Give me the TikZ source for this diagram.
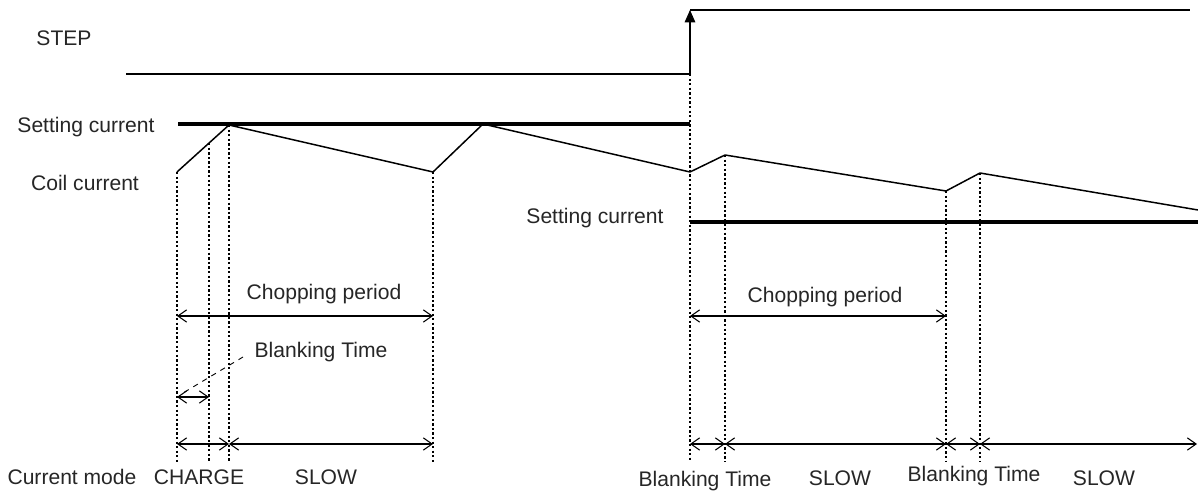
\documentclass[tikz,border=0pt]{standalone}
\usepackage{fontspec}
\setmainfont{Liberation Sans}
\usepackage{tikz}
\usetikzlibrary{arrows.meta,calc}

\begin{document}
\begin{tikzpicture}[x=0.02cm,y=-0.02cm,line width=0.6pt,
  lbl/.style={font=\fontsize{12}{14}\selectfont,text=black!85,inner sep=0pt},
  guide/.style={dash pattern=on 1.3pt off 1.3pt,line width=0.6pt},
  span/.style={<->,>={Straight Barb[length=5pt,width=7pt]}},
  setting/.style={line width=1.8pt},
  coil/.style={line width=0.85pt,line join=round}]
\useasboundingbox (0,0) rectangle (1198,492);
% labels
\node[lbl] (step) at (64,38) {STEP};
\node[lbl] (set1) at (86,127) {Setting current};
\node[lbl] (coil) at (85,183) {Coil current};
\node[lbl] (set2) at (595,218) {Setting current};
\node[lbl] (mode) at (72,477) {Current mode};
% step signal
\coordinate (s0) at (126,74);
\coordinate (s1) at (690,74);
\coordinate (s2) at (690,10);
\coordinate (s3) at (1190,10);
\draw (s0) -- (s1);
\draw[-{Triangle[length=7pt,width=6pt]}] (s1) -- (s2);
\draw (s2) -- (s3);
% setting current
\draw[setting] (178,124) -- (690,124);
\draw[setting] (690,222) -- (1198,222);
% coil current
\coordinate (c0) at (177,172);
\coordinate (c1) at (229,125);
\coordinate (c2) at (433,172);
\coordinate (c3) at (483,124);
\coordinate (c4) at (690,172);
\coordinate (c5) at (725,155);
\coordinate (c6) at (946,191);
\coordinate (c7) at (980,173);
\coordinate (c8) at (1198,210);
\coordinate (b1) at ($(c0)!0.615!(c1)$);
\draw[coil] (c0) -- (c1) -- (c2) -- (c3) -- (c4) -- (c5) -- (c6) -- (c7) -- (c8);
% guides
\foreach \p in {c0,b1,c1,c2,s1,c5,c6,c7}
  \draw[guide] (\p) -- (\p |- 0,462);
% chopping periods
\draw[span] (177,316) -- (433,316);
\node[lbl] (chop1) at (324,294) {Chopping period};
\draw[span] (690,316) -- (946,316);
\node[lbl] (chop2) at (825,297) {Chopping period};
% blanking
\node[lbl] (blank) at (321,352) {Blanking Time};
\draw[span] (177,397) -- (209,397);
\draw[dashed,line width=0.5pt] (243,357) -- (183,393);
% current modes
\draw[span] (177,444) -- (229,444);
\draw[span] (229,444) -- (433,444);
\draw[span] (690,444) -- (725,444);
\draw[span] (725,444) -- (946,444);
\draw[span] (946,444) -- (980,444);
\draw[span] (980,444) -- (1197,444);
\node[lbl] (charge) at (199,477) {CHARGE};
\node[lbl] (slow1) at (326,477) {SLOW};
\node[lbl] (blank1) at (705,481) {Blanking Time};
\node[lbl] (slow2) at (840,478) {SLOW};
\node[lbl] (blank2) at (974,476) {Blanking Time};
\node[lbl] (slow3) at (1104,478) {SLOW};
\end{tikzpicture}
\end{document}
